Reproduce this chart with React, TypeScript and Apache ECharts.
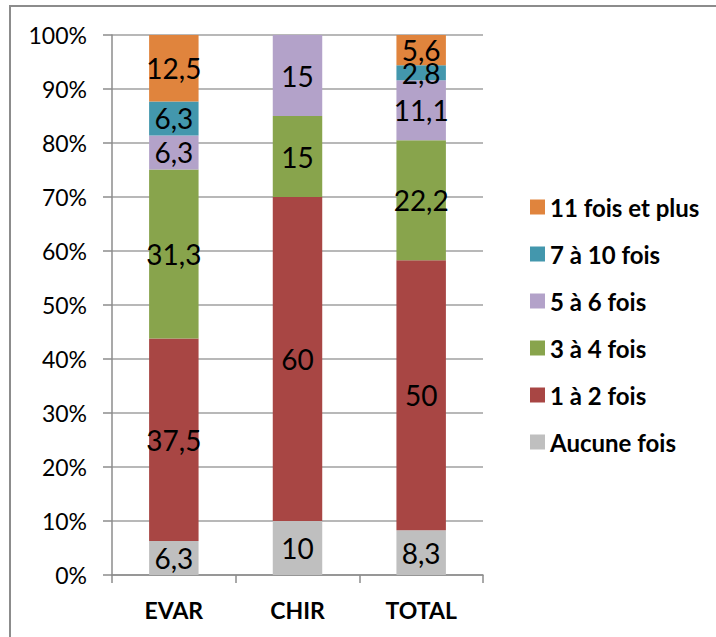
import React, { useEffect, useRef } from "react";
import * as echarts from "echarts";

const categories = ["EVAR", "CHIR", "TOTAL"];
const seriesNames = ["Aucune fois", "1 à 2 fois", "3 à 4 fois", "5 à 6 fois", "7 à 10 fois", "11 fois et plus"];
const aucune = [6.3, 10, 8.3];
const unDeux = [37.5, 60, 50];
const troisQuatre = [31.3, 15, 22.2];
const cinqSix = [6.3, 15, 11.1];
const septDix = [6.3, 0, 2.8];
const onzePlus = [12.5, 0, 5.6];
const colors = ["#BFBFBF", "#A84644", "#88A44C", "#B3A2C9", "#4397AD", "#E0843D"];
const yTicks = [0, 10, 20, 30, 40, 50, 60, 70, 80, 90, 100];

const FONT = "Lato, 'Liberation Sans', sans-serif";

export default function App() {
  const ref = useRef<HTMLDivElement>(null);
  useEffect(() => {
    if (!ref.current) return;
    const chart = echarts.init(ref.current, null, { renderer: "svg" });
    const values = [aucune, unDeux, troisQuatre, cinqSix, septDix, onzePlus];
    chart.setOption({
      animation: false,
      textStyle: { fontFamily: FONT },
      graphic: [
        {
          type: "rect",
          shape: { x: 10, y: 6, width: 800, height: 700 },
          style: { fill: "none", stroke: "#8C8C8C", lineWidth: 2 },
          silent: true,
        },
      ],
      grid: { left: 112, top: 35, width: 371, height: 540, containLabel: false },
      legend: {
        orient: "vertical",
        left: 525,
        top: 190,
        itemWidth: 15,
        itemHeight: 15,
        itemGap: 23,
        icon: "rect",
        data: seriesNames.slice().reverse(),
        textStyle: { fontFamily: FONT, fontSize: 24, fontWeight: "bold", color: "#000" },
      },
      xAxis: {
        type: "category",
        data: categories,
        axisLine: { lineStyle: { color: "#8C8C8C", width: 1.5 } },
        axisTick: { show: true, length: 8, lineStyle: { color: "#8C8C8C", width: 1.5 } },
        axisLabel: { fontFamily: FONT, fontSize: 23, fontWeight: "bold", color: "#000", margin: 23 },
      },
      yAxis: {
        type: "value",
        min: 0,
        max: 100,
        interval: 10,
        axisLine: { show: true, lineStyle: { color: "#8C8C8C", width: 1.5 } },
        axisTick: { show: true, length: 9, lineStyle: { color: "#8C8C8C", width: 1.5 } },
        splitLine: { lineStyle: { color: "#A0A0A0", width: 1.5 } },
        axisLabel: {
          fontFamily: FONT,
          fontSize: 23,
          color: "#000",
          margin: 25,
          formatter: (v: number) => (yTicks.includes(v) ? v + "%" : ""),
        },
      },
      series: seriesNames.map((name, i) => ({
        name,
        type: "bar",
        stack: "total",
        barWidth: "40%",
        itemStyle: { color: colors[i] },
        label: {
          show: true,
          position: "inside",
          color: "#000",
          fontFamily: FONT,
          fontSize: 28,
          formatter: (p: any) => (p.value === 0 ? "" : String(p.value).replace(".", ",")),
        },
        data: values[i],
      })),
    });
    return () => chart.dispose();
  }, []);
  return (
    <div
      ref={ref}
      style={{ position: "absolute", left: 0, top: 0, width: 716, height: 637, background: "#fff" }}
    />
  );
}
